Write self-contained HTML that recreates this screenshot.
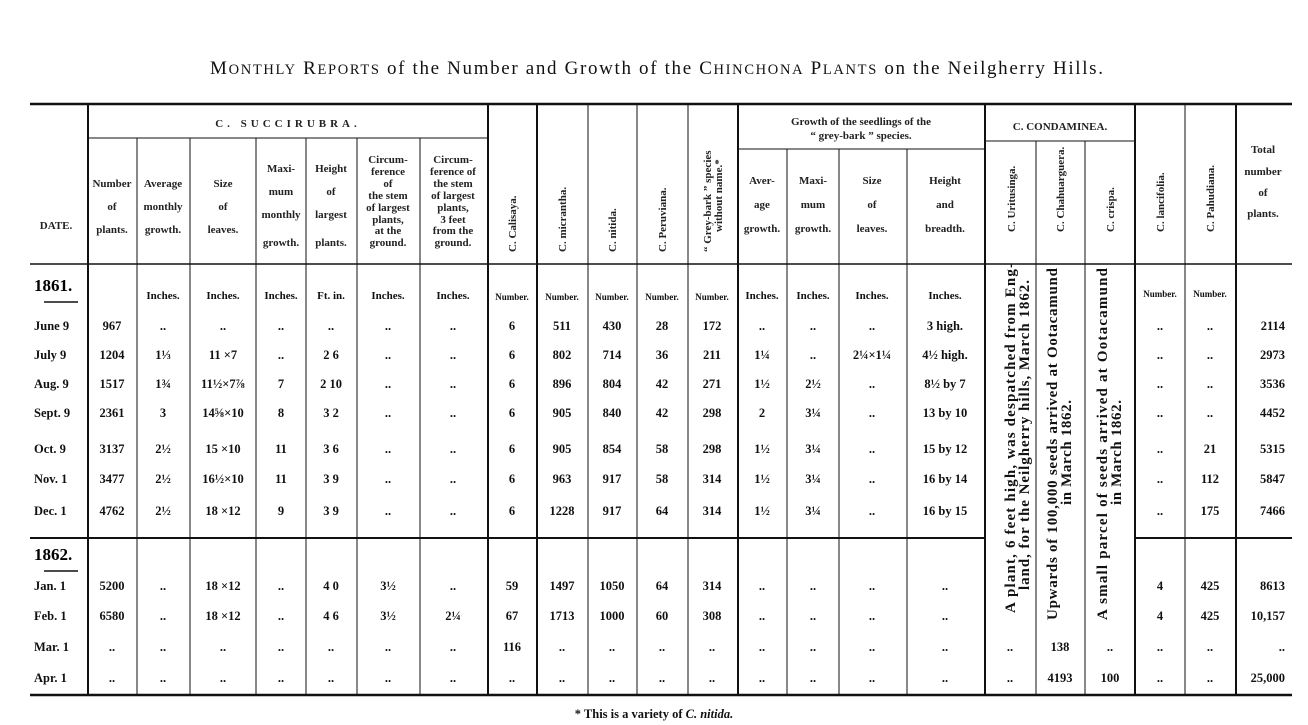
<!DOCTYPE html>
<html><head><meta charset="utf-8"><style>
body{margin:0;background:#fff;}
svg{display:block;font-family:"Liberation Serif",serif;}
.h{font-size:11px;font-weight:bold;fill:#222;}
.d{font-size:12.5px;font-weight:bold;fill:#111;}
.u{font-size:11px;font-weight:bold;fill:#111;}
.s{font-size:9px;font-weight:bold;fill:#111;}
</style></head><body>
<svg width="1308" height="725" viewBox="0 0 1308 725" xmlns="http://www.w3.org/2000/svg">
<text x="210" y="74" font-size="19" fill="#111" textLength="893" lengthAdjust="spacing">M<tspan font-size="14.5">ONTHLY</tspan> R<tspan font-size="14.5">EPORTS</tspan> of the Number and Growth of the C<tspan font-size="14.5">HINCHONA</tspan> P<tspan font-size="14.5">LANTS</tspan> on the Neilgherry Hills.</text>
<g stroke="#111" fill="none">
<line x1="30" y1="104" x2="1292" y2="104" stroke-width="2.5"/>
<line x1="30" y1="264" x2="1292" y2="264" stroke-width="1.5"/>
<line x1="30" y1="538" x2="985" y2="538" stroke-width="2"/>
<line x1="1135" y1="538" x2="1292" y2="538" stroke-width="2"/>
<line x1="30" y1="695" x2="1292" y2="695" stroke-width="2.5"/>
<line x1="88" y1="138" x2="487" y2="138"/>
<line x1="738" y1="149" x2="985" y2="149"/>
<line x1="985" y1="141" x2="1135" y2="141"/>
<line x1="44" y1="302" x2="78" y2="302" stroke-width="1.5"/>
<line x1="44" y1="571" x2="78" y2="571" stroke-width="1.5"/>
<g stroke-width="2">
<line x1="88" y1="104" x2="88" y2="695"/><line x1="488" y1="104" x2="488" y2="695"/>
<line x1="738" y1="104" x2="738" y2="695"/><line x1="985" y1="104" x2="985" y2="695"/>
<line x1="1135" y1="104" x2="1135" y2="695"/><line x1="1236" y1="104" x2="1236" y2="695"/>
<line x1="537" y1="104" x2="537" y2="695"/>
</g>
<g stroke-width="1">
<line x1="137" y1="138" x2="137" y2="695"/><line x1="190" y1="138" x2="190" y2="695"/>
<line x1="256" y1="138" x2="256" y2="695"/><line x1="306" y1="138" x2="306" y2="695"/>
<line x1="357" y1="138" x2="357" y2="695"/><line x1="420" y1="138" x2="420" y2="695"/>
<line x1="588" y1="104" x2="588" y2="695"/><line x1="637" y1="104" x2="637" y2="695"/>
<line x1="688" y1="104" x2="688" y2="695"/>
<line x1="787" y1="149" x2="787" y2="695"/><line x1="839" y1="149" x2="839" y2="695"/>
<line x1="907" y1="149" x2="907" y2="695"/>
<line x1="1036" y1="141" x2="1036" y2="695"/><line x1="1085" y1="141" x2="1085" y2="695"/>
<line x1="1185" y1="104" x2="1185" y2="695"/>
</g>
</g>
<g class="h" text-anchor="middle">
<text x="288" y="127" letter-spacing="4">C. SUCCIRUBRA.</text>
<text x="861" y="125">Growth of the seedlings of the</text>
<text x="861" y="139">“ grey-bark ” species.</text>
<text x="1060" y="130">C. CONDAMINEA.</text>
<text x="56" y="229">DATE.</text>
<text x="112" y="187">Number</text><text x="112" y="210">of</text><text x="112" y="233">plants.</text>
<text x="163" y="187">Average</text><text x="163" y="210">monthly</text><text x="163" y="233">growth.</text>
<text x="223" y="187">Size</text><text x="223" y="210">of</text><text x="223" y="233">leaves.</text>
<text x="281" y="172">Maxi-</text><text x="281" y="195">mum</text><text x="281" y="218">monthly</text><text x="281" y="246">growth.</text>
<text x="331" y="172">Height</text><text x="331" y="195">of</text><text x="331" y="218">largest</text><text x="331" y="246">plants.</text>
<text x="388" y="163">Circum-</text><text x="388" y="175">ference</text><text x="388" y="187">of</text><text x="388" y="199">the stem</text><text x="388" y="211">of largest</text><text x="388" y="223">plants,</text><text x="388" y="234">at the</text><text x="388" y="246">ground.</text>
<text x="453" y="163">Circum-</text><text x="453" y="175">ference of</text><text x="453" y="187">the stem</text><text x="453" y="199">of largest</text><text x="453" y="211">plants,</text><text x="453" y="223">3 feet</text><text x="453" y="234">from the</text><text x="453" y="246">ground.</text>
<text x="762" y="184">Aver-</text><text x="762" y="208">age</text><text x="762" y="232">growth.</text>
<text x="813" y="184">Maxi-</text><text x="813" y="208">mum</text><text x="813" y="232">growth.</text>
<text x="872" y="184">Size</text><text x="872" y="208">of</text><text x="872" y="232">leaves.</text>
<text x="945" y="184">Height</text><text x="945" y="208">and</text><text x="945" y="232">breadth.</text>
<text x="1263" y="153">Total</text><text x="1263" y="175">number</text><text x="1263" y="196">of</text><text x="1263" y="217">plants.</text>
</g>
<g class="h" font-weight="normal" font-size="10.5">
<text transform="translate(516,252) rotate(-90)">C. Calisaya.</text>
<text transform="translate(566,252) rotate(-90)">C. micrantha.</text>
<text transform="translate(616,252) rotate(-90)">C. nitida.</text>
<text transform="translate(666,252) rotate(-90)">C. Peruviana.</text>
<text transform="translate(711,252) rotate(-90)">“ Grey-bark ” species</text>
<text transform="translate(722,232) rotate(-90)">without name.*</text>
<text transform="translate(1015,232) rotate(-90)">C. Uritusinga.</text>
<text transform="translate(1064,232) rotate(-90)">C. Chahuarguera.</text>
<text transform="translate(1114,232) rotate(-90)">C. crispa.</text>
<text transform="translate(1164,232) rotate(-90)">C. lancifolia.</text>
<text transform="translate(1214,232) rotate(-90)">C. Pahudiana.</text>
</g>
<g font-size="15" font-weight="bold" fill="#111">
<text transform="translate(1015,613) rotate(-90)" textLength="350" lengthAdjust="spacing">A plant, 6 feet high, was despatched from Eng-</text>
<text transform="translate(1029,590) rotate(-90)" textLength="310" lengthAdjust="spacing">land, for the Neilgherry hills, March 1862.</text>
<text transform="translate(1057,620) rotate(-90)" textLength="352" lengthAdjust="spacing">Upwards of 100,000 seeds arrived at Ootacamund</text>
<text transform="translate(1071,505) rotate(-90)" textLength="105" lengthAdjust="spacing">in March 1862.</text>
<text transform="translate(1107,620) rotate(-90)" textLength="352" lengthAdjust="spacing">A small parcel of seeds arrived at Ootacamund</text>
<text transform="translate(1121,505) rotate(-90)" textLength="105" lengthAdjust="spacing">in March 1862.</text>
</g>
<text x="34" y="291" font-size="17" font-weight="bold">1861.</text>
<text x="34" y="560" font-size="17" font-weight="bold">1862.</text>
<g class="u" text-anchor="middle">
<text x="163" y="299">Inches.</text><text x="223" y="299">Inches.</text><text x="281" y="299">Inches.</text><text x="331" y="299">Ft. in.</text><text x="388" y="299">Inches.</text><text x="453" y="299">Inches.</text>
<text x="762" y="299">Inches.</text><text x="813" y="299">Inches.</text><text x="872" y="299">Inches.</text><text x="945" y="299">Inches.</text>
</g>
<g class="s" text-anchor="middle">
<text x="512" y="300">Number.</text><text x="562" y="300">Number.</text><text x="612" y="300">Number.</text><text x="662" y="300">Number.</text><text x="712" y="300">Number.</text><text x="1160" y="297">Number.</text><text x="1210" y="297">Number.</text>
</g>
<g class="d" id="rows"></g>
<text x="654" y="718" text-anchor="middle" font-size="12.5" font-weight="bold" fill="#111">* This is a variety of <tspan font-style="italic">C. nitida.</tspan></text>
</svg>
<script>
var X=[112,163,223,281,331,388,453,512,562,612,662,712,762,813,872,945,1010,1060,1110,1160,1210];
var R=[
[326,"June 9","967","..","..","..","..","..","..","6","511","430","28","172","..","..","..","3 high.","","","","..","..","2114"],
[355,"July 9","1204","1⅓","11 ×7","..","2  6","..","..","6","802","714","36","211","1¼","..","2¼×1¼","4½ high.","","","","..","..","2973"],
[384,"Aug. 9","1517","1¾","11½×7⅞","7","2 10","..","..","6","896","804","42","271","1½","2½","..","8½ by 7","","","","..","..","3536"],
[413,"Sept. 9","2361","3","14⅝×10","8","3  2","..","..","6","905","840","42","298","2","3¼","..","13 by 10","","","","..","..","4452"],
[449,"Oct. 9","3137","2½","15 ×10","11","3  6","..","..","6","905","854","58","298","1½","3¼","..","15 by 12","","","","..","21","5315"],
[479,"Nov. 1","3477","2½","16½×10","11","3  9","..","..","6","963","917","58","314","1½","3¼","..","16 by 14","","","","..","112","5847"],
[511,"Dec. 1","4762","2½","18 ×12","9","3  9","..","..","6","1228","917","64","314","1½","3¼","..","16 by 15","","","","..","175","7466"],
[586,"Jan. 1","5200","..","18 ×12","..","4  0","3½","..","59","1497","1050","64","314","..","..","..","..","","","","4","425","8613"],
[616,"Feb. 1","6580","..","18 ×12","..","4  6","3½","2¼","67","1713","1000","60","308","..","..","..","..","","","","4","425","10,157"],
[647,"Mar. 1","..","..","..","..","..","..","..","116","..","..","..","..","..","..","..","..","..","138","..","..","..","..."],
[678,"Apr. 1","..","..","..","..","..","..","..","..","..","..","..","..","..","..","..","..","..","4193","100","..","..","25,000"]];
var g=document.getElementById("rows"),ns="http://www.w3.org/2000/svg";
function t(x,y,s,a){var e=document.createElementNS(ns,"text");e.setAttribute("x",x);e.setAttribute("y",y);e.setAttribute("text-anchor",a);e.setAttribute("xml:space","preserve");e.textContent=s;g.appendChild(e);}
R.forEach(function(r){var y=r[0]+4;t(34,y,r[1],"start");
for(var i=2;i<r.length-1;i++){if(r[i])t(X[i-2],y,r[i],"middle");}
t(1285,y,r[r.length-1]=="..."?"..":r[r.length-1],"end");});
</script>
</body></html>
